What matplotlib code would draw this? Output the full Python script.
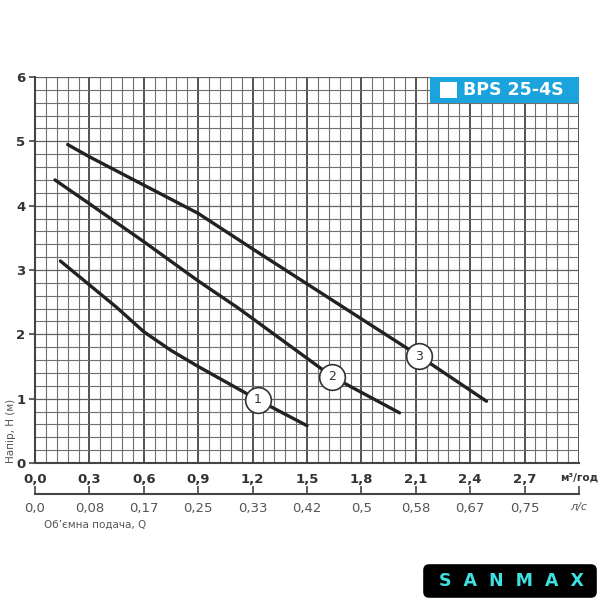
import matplotlib.pyplot as plt
from matplotlib.patches import Rectangle, FancyBboxPatch
from matplotlib.ticker import FixedLocator, MultipleLocator

# Крива 1, 2, 3 (Q, м3/год -> H, м)
q1 = [0.14, 0.45, 0.6, 0.75, 0.9, 1.23, 1.5]
h1 = [3.14, 2.42, 2.04, 1.75, 1.5, 0.98, 0.58]
q2 = [0.11, 0.3, 0.6, 0.9, 1.12, 1.64, 2.01]
h2 = [4.40, 4.03, 3.44, 2.83, 2.41, 1.34, 0.78]
q3 = [0.18, 0.3, 0.6, 0.9, 1.21, 2.12, 2.49]
h3 = [4.95, 4.76, 4.32, 3.88, 3.31, 1.66, 0.96]

# Позначки кривих
mark_q = [1.23, 1.64, 2.12]
mark_h = [0.98, 1.34, 1.66]
mark_txt = ["1", "2", "3"]

# Підписи осей
x_ticks = [0.0, 0.3, 0.6, 0.9, 1.2, 1.5, 1.8, 2.1, 2.4, 2.7, 3.0]
x_labels = ["0,0", "0,3", "0,6", "0,9", "1,2", "1,5", "1,8", "2,1", "2,4", "2,7", "м³/год"]
ls_labels = ["0,0", "0,08", "0,17", "0,25", "0,33", "0,42", "0,5", "0,58", "0,67", "0,75", "л/с"]
y_ticks = [0, 1, 2, 3, 4, 5, 6]

fig = plt.figure(figsize=(6, 6), dpi=100)
ax = fig.add_axes([35/600, 137/600, 544/600, 386/600])
ax.set_xlim(0, 3.0)
ax.set_ylim(0, 6)

# Сітка
ax.xaxis.set_minor_locator(MultipleLocator(0.06))
ax.yaxis.set_minor_locator(MultipleLocator(0.2))
ax.grid(which="minor", color="#707070", linewidth=0.8)
ax.grid(which="major", axis="y", color="#606060", linewidth=0.9)
ax.grid(which="major", axis="x", color="#444444", linewidth=1.3)
ax.set_axisbelow(True)
for s in ["top", "right"]:
    ax.spines[s].set_visible(False)
ax.spines["left"].set_color("#444444")
ax.spines["bottom"].set_color("#444444")
ax.spines["left"].set_linewidth(1.5)
ax.spines["bottom"].set_linewidth(1.5)

ax.xaxis.set_major_locator(FixedLocator(x_ticks))
ax.set_xticklabels(x_labels)
ax.yaxis.set_major_locator(FixedLocator(y_ticks))
ax.set_yticklabels([str(v) for v in y_ticks])
ax.tick_params(axis="x", which="both", length=0, pad=7, labelsize=9.5, labelcolor="#333333")
ax.tick_params(axis="y", which="major", length=4, width=1.2, color="#444444", pad=3,
               labelsize=9.5, labelcolor="#333333")
ax.tick_params(axis="y", which="minor", length=0)
for t in ax.get_xticklabels() + ax.get_yticklabels():
    t.set_fontweight("bold")
ax.get_xticklabels()[-1].set_fontsize(7.5)

# Друга вісь, л/с
sec = ax.secondary_xaxis(-0.08)
sec.xaxis.set_major_locator(FixedLocator(x_ticks))
sec.set_xticklabels(ls_labels)
sec.tick_params(direction="in", length=6, width=1.2, color="#444444", pad=6,
                labelsize=9.5, labelcolor="#555555")
sec.spines["bottom"].set_color("#444444")
sec.spines["bottom"].set_linewidth(1.5)
sec.get_xticklabels()[-1].set_fontsize(8)
sec.get_xticklabels()[-1].set_style("italic")

# Криві
for q, h in [(q1, h1), (q2, h2), (q3, h3)]:
    ax.plot(q, h, color="#222222", linewidth=2.4, solid_capstyle="round", zorder=3)

for q, h, t in zip(mark_q, mark_h, mark_txt):
    ax.plot(q, h, marker="o", markersize=18.5, markerfacecolor="white",
            markeredgecolor="#333333", markeredgewidth=1.2, zorder=4)
    ax.text(q, h, t, ha="center", va="center", fontsize=9, color="#333333", zorder=5)

# Назва моделі
ax.add_patch(Rectangle((2.18, 5.6), 0.82, 0.4, facecolor="#1aa3dd", edgecolor="none", zorder=4))
ax.add_patch(Rectangle((2.234, 5.68), 0.094, 0.25, facecolor="white", edgecolor="none", zorder=5))
ax.text(2.36, 5.8, "BPS 25-4S", ha="left", va="center", fontsize=12.5,
        fontweight="bold", color="white", zorder=5)

# Підписи
fig.text(6/600, 137/600, "Напір, H (м)", rotation=90, ha="left", va="bottom",
         fontsize=7.5, color="#555555")
fig.text(44/600, 1 - 525/600, "Об’ємна подача, Q", ha="left", va="center",
         fontsize=7.5, color="#555555")

# Логотип
fig.patches.append(FancyBboxPatch((425/600, 1 - 596/600), 170/600, 30/600,
                                  boxstyle="round,pad=0.003,rounding_size=0.01",
                                  transform=fig.transFigure, facecolor="black",
                                  edgecolor="none", figure=fig))
fig.text(511/600, 1 - 581/600, "S  A  N  M  A  X", ha="center", va="center",
         fontsize=12.5, fontweight="bold", color="#3fe0e0", family="DejaVu Sans")

plt.savefig("out.png", dpi=100)
